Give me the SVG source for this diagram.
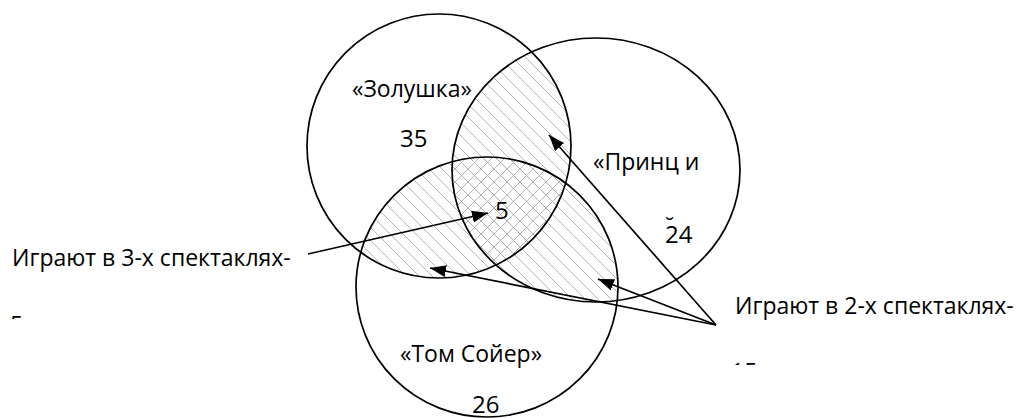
<svg xmlns="http://www.w3.org/2000/svg" width="1016" height="418" viewBox="0 0 1016 418">
<style>
.ring{fill:none;stroke:#000;stroke-width:1.7}
.arr{fill:none;stroke:#000;stroke-width:1.7}
.t{font-family:"Open Sans","DejaVu Sans",sans-serif;font-size:23px;fill:#000}
.n{font-family:"Open Sans","DejaVu Sans",sans-serif;font-size:24px;fill:#000}
</style>
<defs>
<pattern id="h1" patternUnits="userSpaceOnUse" width="13" height="13">
<path d="M-3,-3 L16,16 M-3,10 L3,16 M10,-3 L16,3" stroke="#adadad" stroke-width="0.9"/>
</pattern>
<pattern id="h2" patternUnits="userSpaceOnUse" width="13" height="13">
<path d="M-3,16 L16,-3 M-3,3 L3,-3 M10,16 L16,10" stroke="#adadad" stroke-width="0.9"/>
</pattern>
<clipPath id="cA"><ellipse cx="439" cy="146" rx="132" ry="132"/></clipPath>
<clipPath id="cB"><ellipse cx="596" cy="170" rx="144" ry="132"/></clipPath>
<clipPath id="cC"><ellipse cx="487" cy="287" rx="131" ry="130"/></clipPath>
<clipPath id="cut1"><rect x="0" y="300" width="60" height="19"/></clipPath>
<clipPath id="cut2"><rect x="720" y="340" width="80" height="25"/></clipPath>
<marker id="ah" markerUnits="userSpaceOnUse" markerWidth="18" markerHeight="14" refX="16" refY="6" orient="auto">
<path d="M0,0 L16,6 L0,12 Z" fill="#000"/>
</marker>
</defs>
<g id="hatching">
<g clip-path="url(#cA)"><ellipse cx="596" cy="170" rx="144" ry="132" fill="url(#h1)"/></g>
<g clip-path="url(#cA)"><ellipse cx="487" cy="287" rx="131" ry="130" fill="url(#h1)"/></g>
<g clip-path="url(#cB)"><ellipse cx="487" cy="287" rx="131" ry="130" fill="url(#h1)"/></g>
<g clip-path="url(#cA)"><g clip-path="url(#cB)"><ellipse cx="487" cy="287" rx="131" ry="130" fill="url(#h2)"/></g></g>
</g>
<g id="zolushka">
<ellipse class="ring" cx="439" cy="146" rx="132" ry="132"/>
<text class="t" x="352" y="97">«Золушка»</text>
<text class="n" x="400" y="147">35</text>
</g>
<g id="prince">
<ellipse class="ring" cx="596" cy="170" rx="144" ry="132"/>
<text class="t" x="593" y="170">«Принц и</text>
<text class="n" x="665 665 678.7" y="234 243 243">˘24</text>
</g>
<g id="tom">
<ellipse class="ring" cx="487" cy="287" rx="131" ry="130"/>
<text class="t" x="400" y="362">«Том Сойер»</text>
<text class="n" x="472" y="413">26</text>
</g>
<g id="center">
<text class="n" x="495" y="219">5</text>
</g>
<g id="connectors">
<line class="arr" x1="308" y1="254" x2="488" y2="213" marker-end="url(#ah)"/>
<line class="arr" x1="716" y1="325" x2="549" y2="135" marker-end="url(#ah)"/>
<line class="arr" x1="716" y1="325" x2="598" y2="279" marker-end="url(#ah)"/>
<line class="arr" x1="716" y1="325" x2="430" y2="268" marker-end="url(#ah)"/>
</g>
<g id="label3">
<text class="t" x="12" y="266">Играют в 3-х спектаклях-</text>
<text class="t" x="10" y="333" clip-path="url(#cut1)">5</text>
</g>
<g id="label2">
<text class="t" x="735" y="314">Играют в 2-х спектаклях-</text>
<text class="t" x="731" y="380" clip-path="url(#cut2)">15</text>
</g>
</svg>
